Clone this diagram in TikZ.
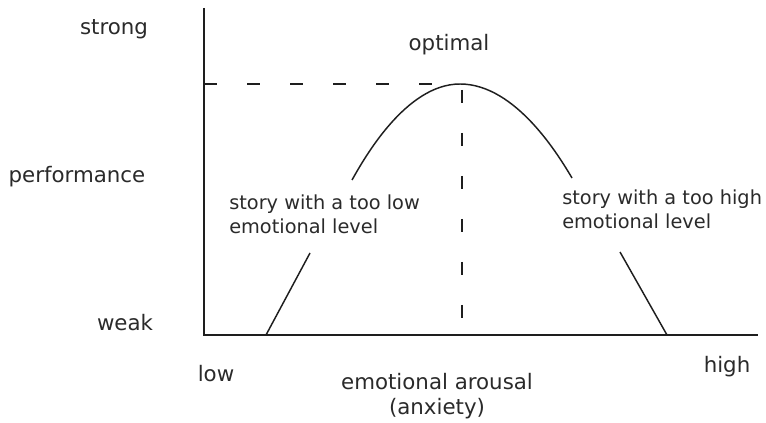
\documentclass[tikz,border=0pt]{standalone}
\usepackage{fontspec}
\setmainfont{DejaVu Sans}
\usetikzlibrary{positioning}
\definecolor{curveInk}{HTML}{1E1E1E}
\definecolor{textInk}{HTML}{2A2A2A}
\tikzset{
  axisLine/.style={draw=curveInk, line width=1.1pt},
  curveLine/.style={draw=curveInk, line width=1.1pt},
  guideLine/.style={draw=curveInk, line width=0.9pt, dash pattern=on 9.75pt off 22.5pt},
  axisLabel/.style={text=textInk, inner sep=0pt, font=\fontsize{16}{19}\selectfont},
  zoneLabel/.style={text=textInk, inner sep=0pt, align=left, font=\fontsize{14.5}{18}\selectfont}
}

\begin{document}
\begin{tikzpicture}[x=0.75pt, y=-0.75pt]
  \useasboundingbox (0,0) rectangle (766,423);

  \coordinate (origin) at (204,335);
  \coordinate (ytop) at (204,8);
  \coordinate (xend) at (758,335);
  \coordinate (peak) at (460,84);

  % axes
  \draw[axisLine] (ytop) -- (origin) -- (xend);

  % inverted U, broken where the labels sit
  \draw[curveLine] (266,335) -- (310,253);
  \draw[curveLine] (352,180) parabola bend (peak) (572,178);
  \draw[curveLine] (620,252) -- (667,335);

  % optimum guides
  \draw[guideLine] (origin |- peak) -- (peak);
  \draw[guideLine] (462,90) -- (462,320);

  \node[axisLabel, anchor=base] (strong) at (114,35) {strong};
  \node[axisLabel, anchor=base] (perf) at (77,183) {performance};
  \node[axisLabel, anchor=base] (weak) at (125,330) {weak};
  \node[axisLabel, anchor=base] (optimal) at (449,51) {optimal};
  \node[axisLabel, anchor=base] (low) at (216,381) {low};
  \node[axisLabel, anchor=base] (high) at (727,373) {high};
  \node[axisLabel, align=center, font=\fontsize{16}{19}\selectfont] (arousal) at (437,396) {emotional arousal\\(anxiety)};

  \node[zoneLabel, anchor=west] (tooLow) at (229,214) {story with a too low\\emotional level};
  \node[zoneLabel, anchor=west] (tooHigh) at (562,209) {story with a too high\\emotional level};
\end{tikzpicture}
\end{document}
